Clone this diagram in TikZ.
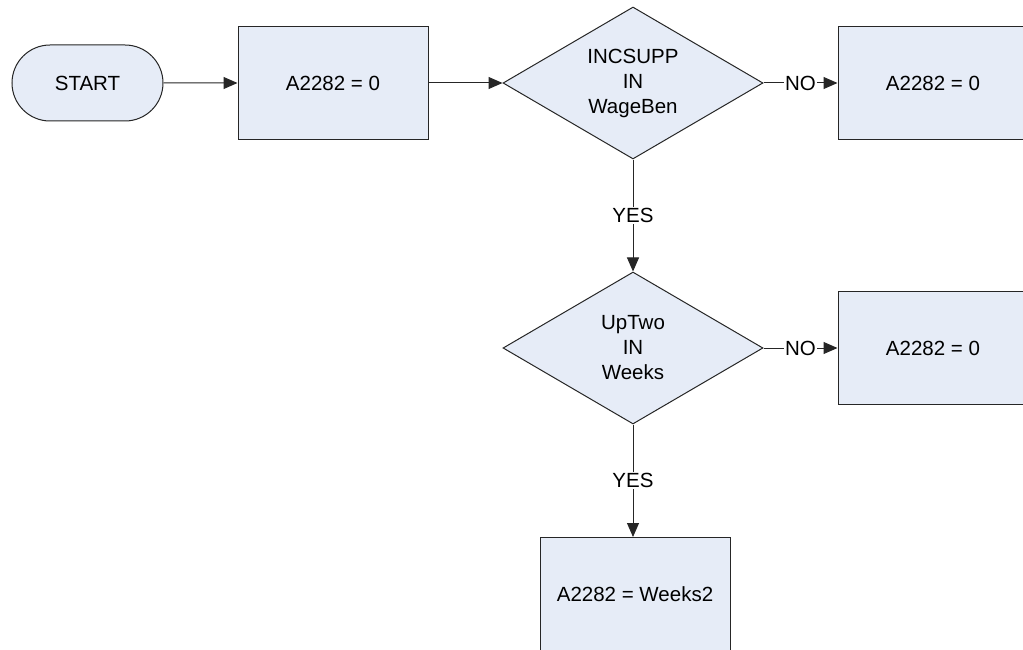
\documentclass[tikz,border=0pt]{standalone}
\usepackage{fontspec}
\setmainfont{Liberation Sans}
\usetikzlibrary{shapes.geometric,shapes.misc,arrows.meta}
\definecolor{boxfill}{HTML}{E6ECF7}
\definecolor{linec}{HTML}{262626}
\tikzset{
  base/.style={draw=linec, line width=1pt, fill=boxfill, inner sep=0pt, align=center,
    font=\fontsize{20.5pt}{25pt}\selectfont},
  procbox/.style={base, rectangle, minimum width=190pt, minimum height=113pt},
  termbox/.style={base, rounded rectangle, minimum width=151pt, minimum height=76pt},
  decbox/.style={base, diamond, aspect=1.7, minimum width=260pt, minimum height=152pt},
  conn/.style={draw=linec, line width=1pt, -{Triangle[length=14pt,width=12pt]}},
  lbl/.style={fill=white, inner sep=1pt, font=\fontsize{20.5pt}{25pt}\selectfont}
}
\begin{document}
\begin{tikzpicture}[x=1pt,y=-1pt]
\useasboundingbox (0,0) rectangle (1023,650);
\begin{scope}
\clip (0,0) rectangle (1023,650);
\node[termbox] (start) at (87.5,83) {START};
\node[procbox] (b1) at (333,83) {A2282 = 0};
\node[decbox] (d1) at (633,83) {INCSUPP\\IN\\WageBen};
\node[procbox] (n1) at (933,83) {A2282 = 0};
\node[decbox] (d2) at (633,348) {UpTwo\\IN\\Weeks};
\node[procbox] (n2) at (933,348) {A2282 = 0};
\node[procbox] (b2) at (635,594) {A2282 = Weeks2};
\end{scope}
\draw[conn] (start) -- (b1);
\draw[conn] (b1) -- (d1);
\draw[conn] (d1) -- node[lbl] {NO} (n1);
\draw[conn] (d1) -- node[lbl] {YES} (d2);
\draw[conn] (d2) -- node[lbl] {NO} (n2);
\draw[conn] (d2) -- node[lbl] {YES} (b2.north -| d2.south);
\end{tikzpicture}
\end{document}
